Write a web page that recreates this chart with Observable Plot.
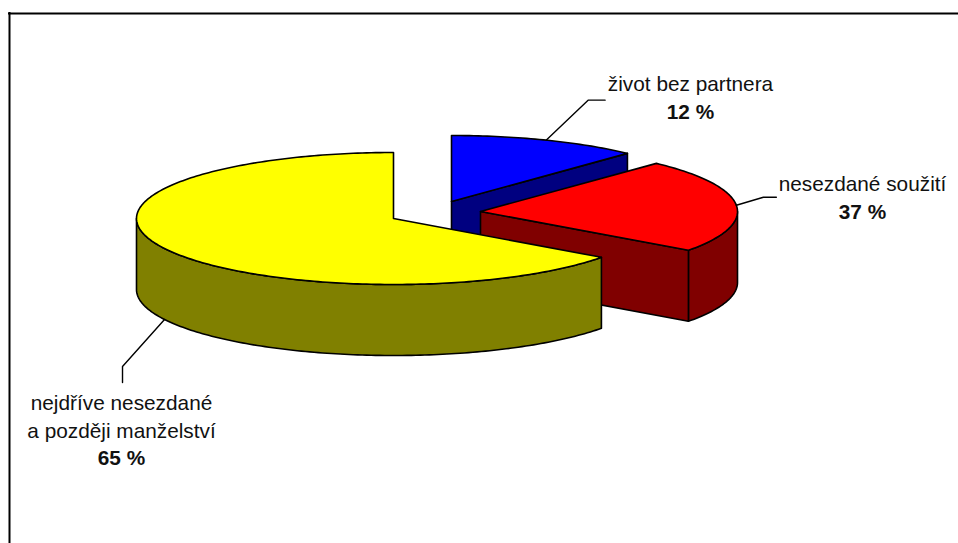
<!DOCTYPE html>
<html>
<head>
<meta charset="utf-8">
<style>html,body{margin:0;padding:0;background:#fff}svg{display:block}</style>
<script src="https://cdn.jsdelivr.net/npm/d3@7"></script>
<script src="https://cdn.jsdelivr.net/npm/@observablehq/plot@0.6"></script>
</head>
<body>
<div id="chart"></div>
<script>
// Data
const sliceNames = ["blue", "red", "yellow"];
const sliceShares = [12, 23, 65];            // drawn angular share of each slice
const sliceLabels = [["život bez partnera"], ["nesezdané soužití"], ["nejdříve nesezdané", "a později manželství"]];
const valueLabels = ["12 %", "37 %", "65 %"];
const topColors = ["#0000ff", "#ff0000", "#ffff00"];
const sideColors = ["#000080", "#800000", "#808000"];

// Layout
const W = 958, H = 543;
const rx = 257, ry = 66, depth = 71;
const centers = [[451, 201], [480, 211], [393, 218]];
const leaderElbows = [[42, -40, 59, -40], [27, -8, 40, -8], [-42, 47, -42, 63]];
const labelAnchors = [[690, 84], [862, 184], [121, 403]];
const lineGap = 27.5;

// Angles clockwise from 12 o'clock, from the shares
let cum = 0;
const slices = sliceShares.map((s, i) => {
  const a0 = cum / 100 * 360; cum += s;
  return {i, a0, a1: cum / 100 * 360, c: centers[i]};
});
const pt = (c, a, dz = 0) => {
  const r = a * Math.PI / 180;
  return {x: c[0] + rx * Math.sin(r), y: c[1] - ry * Math.cos(r) + dz};
};
const arc = (c, a0, a1, dz = 0) => d3.range(a0, a1, 1).concat([a1]).map(a => pt(c, a, dz));
const topPoly = s => [{x: s.c[0], y: s.c[1]}, ...arc(s.c, s.a0, s.a1)];
const outerSide = (s, from, to) => [...arc(s.c, from, to), ...arc(s.c, from, to, depth).reverse()];
const cutFace = (s, a) => {
  const p = pt(s.c, a);
  return [{x: s.c[0], y: s.c[1]}, p, {x: p.x, y: p.y + depth}, {x: s.c[0], y: s.c[1] + depth}];
};

const poly = (pts, fill) => Plot.line(pts, {
  x: "x", y: "y", fill, stroke: "#000", strokeWidth: 1.6,
  curve: "linear-closed", strokeLinejoin: "round"
});

const [b, r, y] = slices;
const shapes = [
  poly(cutFace(b, b.a1), sideColors[0]),
  poly(topPoly(b), topColors[0]),
  poly(outerSide(r, 90, r.a1), sideColors[1]),
  poly(cutFace(r, r.a1), sideColors[1]),
  poly(topPoly(r), topColors[1]),
  poly(outerSide(y, y.a0, 270), sideColors[2]),
  poly(topPoly(y), topColors[2])
];

// Leaders start at each slice's mid angle; the yellow one from the lower rim
const leaders = slices.map((s, i) => {
  const p = pt(s.c, (s.a0 + s.a1) / 2, i === 2 ? depth : 0);
  const e = leaderElbows[i];
  return Plot.line([p, {x: p.x + e[0], y: p.y + e[1]}, {x: p.x + e[2], y: p.y + e[3]}],
    {x: "x", y: "y", stroke: "#000", strokeWidth: 1.4});
});

const labelRows = [], valueRows = [];
sliceLabels.forEach((lines, i) => {
  const [x, y0] = labelAnchors[i];
  lines.forEach((t, k) => labelRows.push({t, x, y: y0 + k * lineGap}));
  valueRows.push({t: valueLabels[i], x, y: y0 + lines.length * lineGap});
});
const font = {fontFamily: "Liberation Sans, Arial, sans-serif", fontSize: 20.8, fill: "#111"};

const plot = Plot.plot({
  width: W, height: H, margin: 0,
  x: {domain: [0, W], range: [0, W], axis: null},
  y: {domain: [0, H], range: [0, H], axis: null},
  style: {background: "#fff"},
  marks: [
    Plot.ruleY([13], {x1: 8, x2: W, stroke: "#000", strokeWidth: 2}),
    Plot.ruleX([9], {y1: 12, y2: H, stroke: "#000", strokeWidth: 2}),
    ...shapes,
    ...leaders,
    Plot.text(labelRows, {x: "x", y: "y", text: "t", ...font}),
    Plot.text(valueRows, {x: "x", y: "y", text: "t", fontWeight: "bold", ...font})
  ]
});
document.getElementById("chart").append(plot);
</script>
</body>
</html>
